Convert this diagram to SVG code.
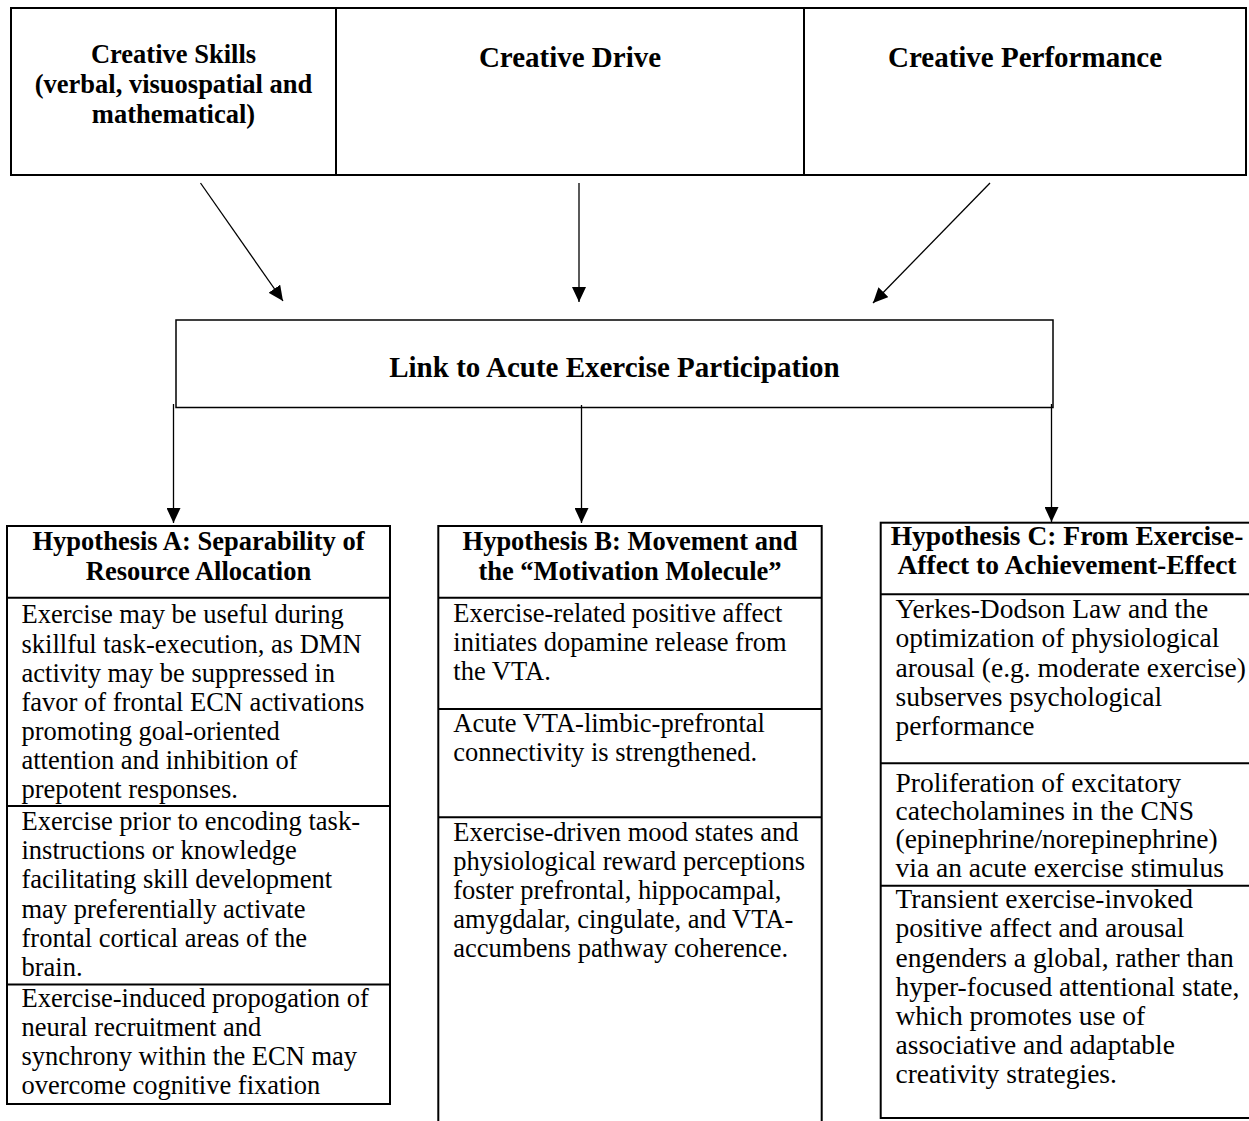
<svg xmlns="http://www.w3.org/2000/svg" width="1249" height="1121" viewBox="0 0 1249 1121">
  <style>
    .box { fill: #fff; stroke: #000; stroke-width: 2; }
    .thin { fill: #fff; stroke: #000; stroke-width: 1.5; }
    .div { stroke: #000; stroke-width: 2; }
    .conn { stroke: #000; stroke-width: 1.3; fill: none; marker-end: url(#head); }
    text { font-family: "Liberation Serif", "Times New Roman", serif; fill: #000; }
    .hb { font-weight: bold; font-size: 26.5px; text-anchor: middle; }
    .hl { font-weight: bold; font-size: 29px; text-anchor: middle; }
    .hc { font-weight: bold; font-size: 27.5px; text-anchor: middle; }
    .b { font-size: 26.5px; }
    .bc { font-size: 27.5px; }
  </style>
  <defs>
    <marker id="head" markerUnits="userSpaceOnUse" markerWidth="16" markerHeight="14" refX="15" refY="7" orient="auto" viewBox="0 0 16 14">
      <path d="M0,0 L15,7 L0,14 z" fill="#000"/>
    </marker>
  </defs>

  <!-- top row: three creative components -->
  <g id="creative-skills">
    <rect class="box" x="11" y="8" width="325" height="167"/>
    <text class="hb" x="173.5" y="63">Creative Skills</text>
    <text class="hb" x="173.5" y="93">(verbal, visuospatial and</text>
    <text class="hb" x="173.5" y="123">mathematical)</text>
  </g>
  <g id="creative-drive">
    <rect class="box" x="336" y="8" width="468" height="167"/>
    <text class="hl" x="570" y="67">Creative Drive</text>
  </g>
  <g id="creative-performance">
    <rect class="box" x="804" y="8" width="442" height="167"/>
    <text class="hl" x="1025" y="67">Creative Performance</text>
  </g>

  <!-- central link -->
  <g id="exercise-link">
    <rect class="thin" x="176" y="320" width="877" height="87.5"/>
    <text class="hl" x="614.5" y="377">Link to Acute Exercise Participation</text>
  </g>

  <!-- connectors -->
  <g id="connectors">
    <line class="conn" x1="200.5" y1="183" x2="283" y2="301"/>
    <line class="conn" x1="579" y1="183" x2="579" y2="302"/>
    <line class="conn" x1="990" y1="183" x2="873" y2="303"/>
    <line class="conn" x1="173.5" y1="404" x2="173.5" y2="523"/>
    <line class="conn" x1="581.5" y1="405" x2="581.5" y2="523"/>
    <line class="conn" x1="1051.5" y1="404" x2="1051.5" y2="522"/>
  </g>

  <!-- hypothesis A -->
  <g id="hypothesis-a">
    <rect class="box" x="7" y="526" width="383" height="578"/>
    <line class="div" x1="7" y1="597.7" x2="390" y2="597.7"/>
    <line class="div" x1="7" y1="806" x2="390" y2="806"/>
    <line class="div" x1="7" y1="984.5" x2="390" y2="984.5"/>
    <text class="hb" x="198.5" y="550">Hypothesis A: Separability of</text>
    <text class="hb" x="198.5" y="580">Resource Allocation</text>
    <text class="b" x="21.5" y="623.3">Exercise may be useful during</text>
    <text class="b" x="21.5" y="652.5">skillful task-execution, as DMN</text>
    <text class="b" x="21.5" y="681.7">activity may be suppressed in</text>
    <text class="b" x="21.5" y="710.9">favor of frontal ECN activations</text>
    <text class="b" x="21.5" y="740.1">promoting goal-oriented</text>
    <text class="b" x="21.5" y="769.3">attention and inhibition of</text>
    <text class="b" x="21.5" y="798.4">prepotent responses.</text>
    <text class="b" x="21.5" y="830">Exercise prior to encoding task-</text>
    <text class="b" x="21.5" y="859.2">instructions or knowledge</text>
    <text class="b" x="21.5" y="888.4">facilitating skill development</text>
    <text class="b" x="21.5" y="917.6">may preferentially activate</text>
    <text class="b" x="21.5" y="946.8">frontal cortical areas of the</text>
    <text class="b" x="21.5" y="976">brain.</text>
    <text class="b" x="21.5" y="1006.6">Exercise-induced propogation of</text>
    <text class="b" x="21.5" y="1035.8">neural recruitment and</text>
    <text class="b" x="21.5" y="1065">synchrony within the ECN may</text>
    <text class="b" x="21.5" y="1094.2">overcome cognitive fixation</text>
  </g>

  <!-- hypothesis B -->
  <g id="hypothesis-b">
    <rect class="box" x="438.3" y="526" width="383.4" height="600"/>
    <line class="div" x1="438.3" y1="597.7" x2="821.7" y2="597.7"/>
    <line class="div" x1="438.3" y1="709" x2="821.7" y2="709"/>
    <line class="div" x1="438.3" y1="817.3" x2="821.7" y2="817.3"/>
    <text class="hb" x="630" y="550">Hypothesis B: Movement and</text>
    <text class="hb" x="630" y="580">the “Motivation Molecule”</text>
    <text class="b" x="453.3" y="621.7">Exercise-related positive affect</text>
    <text class="b" x="453.3" y="650.9">initiates dopamine release from</text>
    <text class="b" x="453.3" y="680.1">the VTA.</text>
    <text class="b" x="453.3" y="731.7">Acute VTA-limbic-prefrontal</text>
    <text class="b" x="453.3" y="760.9">connectivity is strengthened.</text>
    <text class="b" x="453.3" y="840.5">Exercise-driven mood states and</text>
    <text class="b" x="453.3" y="869.7">physiological reward perceptions</text>
    <text class="b" x="453.3" y="898.9">foster prefrontal, hippocampal,</text>
    <text class="b" x="453.3" y="928.1">amygdalar, cingulate, and VTA-</text>
    <text class="b" x="453.3" y="957.3">accumbens pathway coherence.</text>
  </g>

  <!-- hypothesis C -->
  <g id="hypothesis-c">
    <rect class="box" x="880.7" y="522.7" width="372" height="595.3"/>
    <line class="div" x1="880.7" y1="594.3" x2="1252" y2="594.3"/>
    <line class="div" x1="880.7" y1="763.3" x2="1252" y2="763.3"/>
    <line class="div" x1="880.7" y1="885.7" x2="1252" y2="885.7"/>
    <text class="hc" x="1067" y="545">Hypothesis C: From Exercise-</text>
    <text class="hc" x="1067" y="574">Affect to Achievement-Effect</text>
    <text class="bc" x="895.5" y="618.3">Yerkes-Dodson Law and the</text>
    <text class="bc" x="895.5" y="647.4">optimization of physiological</text>
    <text class="bc" x="895.5" y="676.5">arousal (e.g. moderate exercise)</text>
    <text class="bc" x="895.5" y="705.6">subserves psychological</text>
    <text class="bc" x="895.5" y="734.7">performance</text>
    <text class="bc" x="895.5" y="791.7">Proliferation of excitatory</text>
    <text class="bc" x="895.5" y="820">catecholamines in the CNS</text>
    <text class="bc" x="895.5" y="848.3">(epinephrine/norepinephrine)</text>
    <text class="bc" x="895.5" y="876.6">via an acute exercise stimulus</text>
    <text class="bc" x="895.5" y="908.3">Transient exercise-invoked</text>
    <text class="bc" x="895.5" y="937.4">positive affect and arousal</text>
    <text class="bc" x="895.5" y="966.5">engenders a global, rather than</text>
    <text class="bc" x="895.5" y="995.6">hyper-focused attentional state,</text>
    <text class="bc" x="895.5" y="1024.7">which promotes use of</text>
    <text class="bc" x="895.5" y="1053.8">associative and adaptable</text>
    <text class="bc" x="895.5" y="1082.9">creativity strategies.</text>
  </g>
</svg>
